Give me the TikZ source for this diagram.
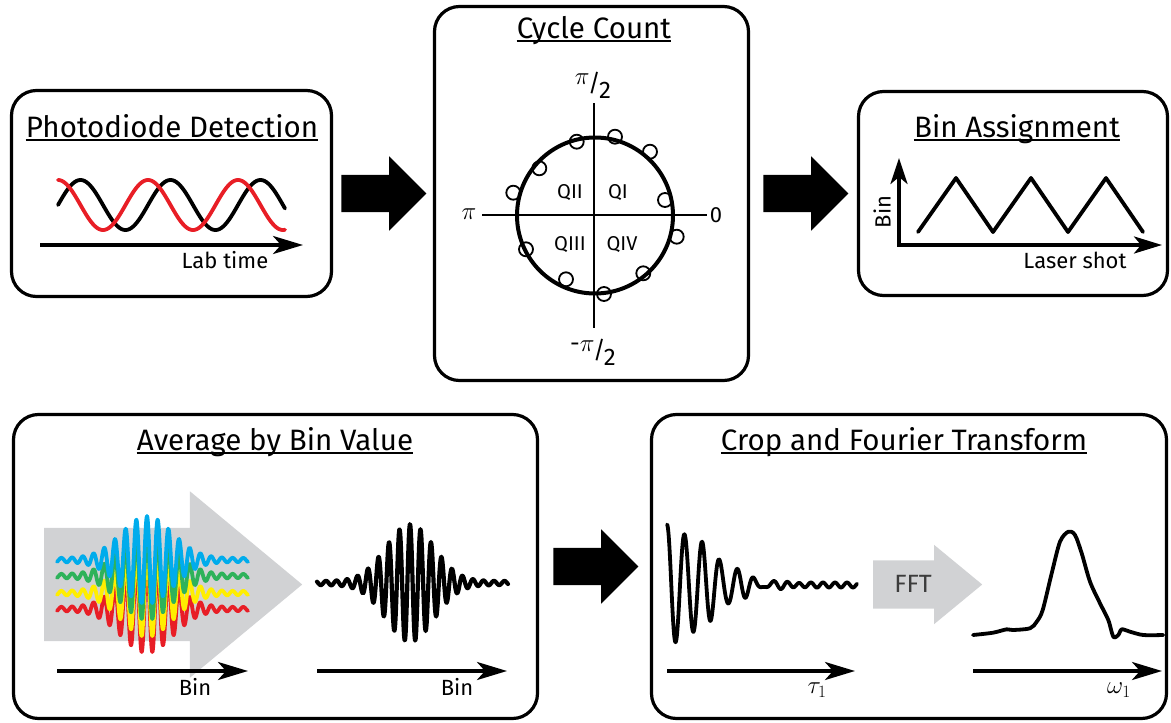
\documentclass[tikz,border=0pt]{standalone}
\usepackage{fontspec}
\setmainfont{Fira Sans}
\usetikzlibrary{arrows.meta,positioning,calc,shapes.arrows}
\definecolor{arrowgray}{RGB}{209,210,212}
\definecolor{fftgray}{RGB}{60,60,60}
\definecolor{wavered}{RGB}{232,30,38}
\definecolor{waveyellow}{RGB}{255,238,0}
\definecolor{wavegreen}{RGB}{46,178,90}
\definecolor{waveblue}{RGB}{0,172,236}
\newcommand{\slfrac}[2]{\raisebox{7pt}{#1}\kern-1.5pt/\kern-1.5pt\raisebox{-7pt}{#2}}

\begin{document}
\begin{tikzpicture}[x=1pt, y=-1pt,
  panel/.style={draw, line width=3.2pt, rounded corners=25pt, inner sep=0pt},
  paneltitle/.style={font=\fontsize{29.5}{32}\selectfont, inner sep=0pt, anchor=base},
  uline/.style={line width=1.4pt},
  lbl/.style={font=\fontsize{22}{26}\selectfont, inner sep=0pt},
  qlbl/.style={font=\fontsize{20}{24}\selectfont, inner sep=0pt},
  axisarr/.style={line width=3.5pt, -{Stealth[length=30pt,width=18pt,inset=8pt]}},
  wave/.style={line width=3.8pt, line join=round, line cap=round},
  bigarrow/.style={single arrow, fill=black, draw=none, inner xsep=0pt, inner ysep=18.5pt,
                   single arrow head extend=18.5pt, single arrow tip angle=90,
                   minimum height=85pt, anchor=tail}]
  \useasboundingbox (0,0) rectangle (1171,723);

  % panels
  \node[panel, minimum width=320pt, minimum height=206pt] (pd) at (171.5,193.5) {};
  \node[panel, minimum width=314pt, minimum height=374pt] (cc) at (591.5,193.5) {};
  \node[panel, minimum width=309pt, minimum height=204pt] (ba) at (1013,193.5) {};
  \node[panel, minimum width=524pt, minimum height=304pt] (av) at (275.5,566.5) {};
  \node[panel, minimum width=515pt, minimum height=304pt] (ft) at (909,566.5) {};

  % titles
  \node[paneltitle] (tpd) at (172,137) {Photodiode Detection};
  \node[paneltitle] (tcc) at (594,38) {Cycle Count};
  \node[paneltitle] (tba) at (1017,137) {Bin Assignment};
  \node[paneltitle] (tav) at (275,450) {Average by Bin Value};
  \node[paneltitle] (tft) at (904,450) {Crop and Fourier Transform};
  \foreach \t in {tpd,tcc,tba,tav,tft}
    \draw[uline] ([yshift=-3pt]\t.base west) -- ([yshift=-3pt]\t.base east);

  % block arrows between panels
  \node[bigarrow] (a1) at ([xshift=8pt]pd.east) {};
  \node[bigarrow] (a2) at ([xshift=13pt]cc.east) {};
  \node[bigarrow] (a3) at ([xshift=14pt]av.east) {};

  % photodiode detection
  \draw[wave, black] plot[domain=58:285, samples=200] (\x, {205 - 25*sin((\x-58)/90*360)});
  \draw[wave, wavered] plot[domain=58:285, samples=200] (\x, {205 - 25*cos((\x-58)/90*360)});
  \draw[axisarr] (40,245) -- (303,245);
  \node[lbl] (labtime) at (225,260) {Lab time};

  % cycle count
  \draw[line width=2.2pt] (594,103) -- (594,328);
  \draw[line width=2.2pt] (482,215) -- (707,215);
  \draw[line width=4pt] (595,215.5) circle[radius=78];
  \foreach \p in {(576.7,141.7),(615,136.7),(650,151.7),(539.3,168.3),(513.3,192.7),(665,200),
                  (676.7,236.7),(526,249.3),(643.3,273.3),(566,279.3),(604,294)}
    \draw[line width=1.8pt] \p circle[radius=7];
  \node[qlbl] (q2) at (570,193) {QII};
  \node[qlbl] (q1) at (618,193) {QI};
  \node[qlbl] (q3) at (570,245) {QIII};
  \node[qlbl] (q4) at (622,245) {QIV};
  \node[lbl, font=\fontsize{25}{28}\selectfont] (ph) at (469,214) {$\pi$};
  \node[lbl] (zr) at (716,215) {0};
  \node[lbl, font=\fontsize{24}{28}\selectfont] (hp) at (593,85) {\slfrac{$\pi$}{2}};
  \node[lbl, font=\fontsize{24}{28}\selectfont] (mhp) at (593,352) {\slfrac{-$\pi$}{2}};

  % bin assignment
  \draw[line width=3.5pt, {Stealth[length=26pt,width=17pt,inset=7pt]}-{Stealth[length=28pt,width=17pt,inset=7pt]}]
    (899,158) -- (899,245) -- (1162,245);
  \draw[wave] (918,232) -- (956,178) -- (993,232) -- (1031,178) -- (1068,232) -- (1106,178) -- (1143,232);
  \node[lbl, rotate=90] (binax) at (882,212) {Bin};
  \node[lbl] (lshot) at (1075,260) {Laser shot};

  % average by bin value
  \node[single arrow, fill=arrowgray, draw=none, inner xsep=0pt, inner ysep=56.5pt,
        single arrow head extend=36.5pt, single arrow tip angle=79.4,
        minimum height=258pt, anchor=tail] (avg) at (44,584.5) {};
  \draw[wave, wavered] plot[domain=57:248, samples=400]
    (\x, {609 - (42*exp(-((\x-147)/36)^2) + 2)*cos((\x-147)/10.7*360)});
  \draw[wave, waveyellow] plot[domain=57:248, samples=400]
    (\x, {593 - (42*exp(-((\x-147)/36)^2) + 2)*cos((\x-147)/10.7*360)});
  \draw[wave, wavegreen] plot[domain=57:248, samples=400]
    (\x, {576 - (42*exp(-((\x-147)/36)^2) + 2)*cos((\x-147)/10.7*360)});
  \draw[wave, waveblue] plot[domain=57:248, samples=400]
    (\x, {560 - (42*exp(-((\x-147)/36)^2) + 2)*cos((\x-147)/10.7*360)});
  \draw[wave, line width=4.2pt] plot[domain=317:508, samples=400]
    (\x, {583 - (57*exp(-((\x-410)/34)^2) + 2)*cos((\x-410)/10.5*360)});
  \draw[axisarr] (57,671) -- (248,671);
  \draw[axisarr] (317,671) -- (507,671);
  \node[lbl] (bin1) at (195,687) {Bin};
  \node[lbl] (bin2) at (457,687) {Bin};

  % crop and fourier transform
  \draw[wave] plot[domain=667:857, samples=400]
    (\x, {585 - 58*exp(-((\x-667)/60)^2)*cos((\x-667)/17.5*360) - 2.5*cos((\x-667)/12*360)});
  \node[single arrow, fill=arrowgray, draw=none, inner xsep=0pt, inner ysep=16pt,
        text height=16pt, text depth=0pt, single arrow head extend=15.5pt,
        single arrow tip angle=79, minimum height=109pt, anchor=tail,
        font=\fontsize{25}{28}\selectfont, text=fftgray] (fft) at (873,584.5) {FFT};
  \draw[wave] plot[smooth] coordinates {(973,635) (993,632.7) (1006.7,629.3) (1013,630) (1030,628.3)
    (1036.7,621.7) (1042.7,610) (1051.7,573.3) (1060,541.7) (1068.3,531.7) (1075,535) (1081.7,553.3)
    (1090,581.7) (1100,603.3) (1108.3,620) (1113.3,636.7) (1118.3,635) (1121.7,629.3) (1130,631.7)
    (1143.3,635) (1163.3,635)};
  \draw[axisarr] (667,671) -- (855,671);
  \draw[axisarr] (973,671) -- (1162,671);
  \node[lbl, font=\fontsize{27}{30}\selectfont] (tau) at (817,690) {$\tau_1$};
  \node[lbl, font=\fontsize{27}{30}\selectfont] (om) at (1119,690) {$\omega_1$};
\end{tikzpicture}
\end{document}
